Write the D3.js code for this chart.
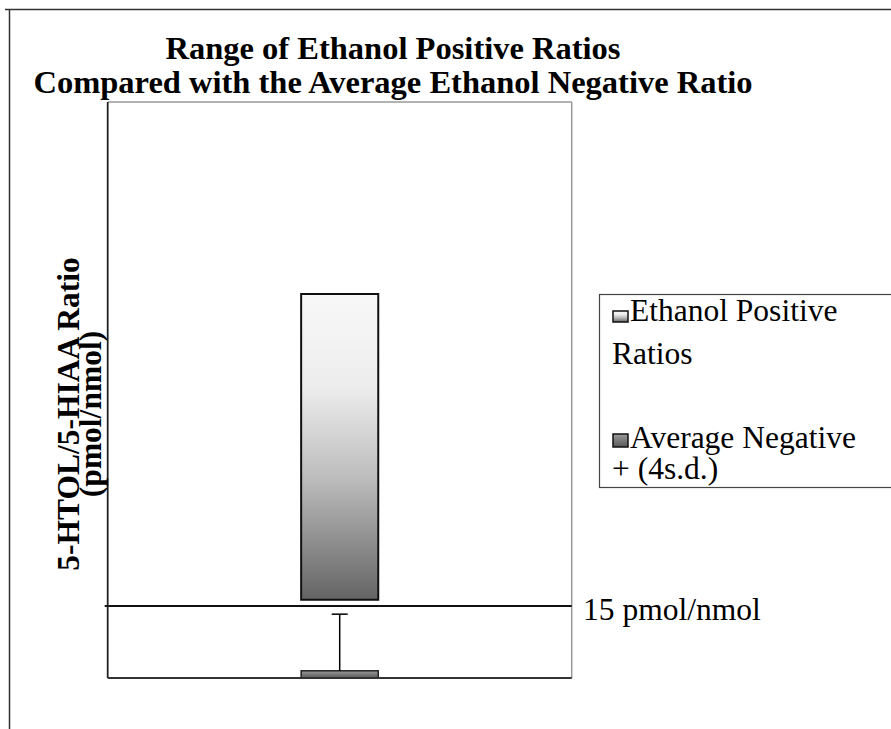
<!DOCTYPE html>
<html><head><meta charset="utf-8">
<script src="https://cdn.jsdelivr.net/npm/d3@7"></script>
<style>html,body{margin:0;padding:0;background:#fff;}svg{display:block;}</style>
</head><body>
<script>
// ---- data ----
const titleLines = ["Range of Ethanol Positive Ratios", "Compared with the Average Ethanol Negative Ratio"];
const yLabelLines = ["5-HTOL/5-HIAA Ratio", "(pmol/nmol)"];
const categories = ["Sample"];
const seriesNames = ["Ethanol Positive Ratios", "Average Negative + (4s.d.)"];
const legendLines = [["Ethanol Positive", "Ratios"], ["Average Negative", "+ (4s.d.)"]];
const positiveLow = [16.3];
const positiveHigh = [80];
const negativeAvg = [1.5];
const negativeUpper = [13.3];
const cutoffValue = 15;
const cutoffLabel = "15 pmol/nmol";
const yDomain = [0, 120];

const W = 891, H = 729;
const svg = d3.select("body").append("svg").attr("width", W).attr("height", H);
const defs = svg.append("defs");
const g1 = defs.append("linearGradient").attr("id","gPos").attr("x1",0).attr("y1",0).attr("x2",0).attr("y2",1);
[[0,"#f8f8f8"],[0.3,"#ededed"],[0.6,"#bdbdbd"],[1,"#646464"]].forEach(s=>g1.append("stop").attr("offset",s[0]).attr("stop-color",s[1]));
const g2 = defs.append("linearGradient").attr("id","gNeg").attr("x1",0).attr("y1",0).attr("x2",0).attr("y2",1);
[[0,"#9a9a9a"],[1,"#5a5a5a"]].forEach(s=>g2.append("stop").attr("offset",s[0]).attr("stop-color",s[1]));

// outer frame (top & left)
svg.append("line").attr("x1",5).attr("x2",W).attr("y1",9.5).attr("y2",9.5).attr("stroke","#333").attr("stroke-width",1.5);
svg.append("line").attr("x1",9.5).attr("x2",9.5).attr("y1",9).attr("y2",H).attr("stroke","#333").attr("stroke-width",1.5);

const font = "'Liberation Serif','Times New Roman',serif";
// title
svg.append("g").selectAll("text").data(titleLines).join("text")
  .attr("x",393).attr("y",(d,i)=>59+i*34).attr("text-anchor","middle")
  .attr("font-family",font).attr("font-weight","bold").attr("font-size",32.5).attr("fill","#000").text(d=>d);

const plot = {l:107.7, r:571.7, t:102, b:678};
const x = d3.scaleBand().domain(categories).range([plot.l, plot.r]).paddingInner(0.715).paddingOuter(0.715);
const y = d3.scaleLinear().domain(yDomain).range([plot.b, plot.t]);

// plot frame
svg.append("line").attr("x1",plot.l).attr("x2",plot.r).attr("y1",plot.t).attr("y2",plot.t).attr("stroke","#999").attr("stroke-width",1.5);
svg.append("line").attr("x1",plot.r).attr("x2",plot.r).attr("y1",plot.t).attr("y2",plot.b).attr("stroke","#999").attr("stroke-width",1.5);

// positive range bar
svg.append("g").selectAll("rect").data(categories).join("rect")
  .attr("x",d=>x(d)).attr("width",x.bandwidth())
  .attr("y",(d,i)=>y(positiveHigh[i])).attr("height",(d,i)=>y(positiveLow[i])-y(positiveHigh[i]))
  .attr("fill","url(#gPos)").attr("stroke","#111").attr("stroke-width",2);

// negative average bar
svg.append("g").selectAll("rect").data(categories).join("rect")
  .attr("x",d=>x(d)).attr("width",x.bandwidth())
  .attr("y",(d,i)=>y(negativeAvg[i])).attr("height",(d,i)=>y(0)-y(negativeAvg[i]))
  .attr("fill","url(#gNeg)").attr("stroke","#222").attr("stroke-width",1.5);

// error bar
const eb = svg.append("g").selectAll("g").data(categories).join("g");
eb.append("line").attr("x1",d=>x(d)+x.bandwidth()/2).attr("x2",d=>x(d)+x.bandwidth()/2)
  .attr("y1",(d,i)=>y(negativeAvg[i])).attr("y2",(d,i)=>y(negativeUpper[i])).attr("stroke","#000").attr("stroke-width",1.5);
eb.append("line").attr("x1",d=>x(d)+x.bandwidth()/2-8).attr("x2",d=>x(d)+x.bandwidth()/2+8)
  .attr("y1",(d,i)=>y(negativeUpper[i])).attr("y2",(d,i)=>y(negativeUpper[i])).attr("stroke","#000").attr("stroke-width",1.5);

// cutoff line
svg.append("line").attr("x1",plot.l-3).attr("x2",plot.r).attr("y1",y(cutoffValue)).attr("y2",y(cutoffValue)).attr("stroke","#111").attr("stroke-width",1.8);
svg.append("text").attr("x",583).attr("y",y(cutoffValue)+14).attr("font-family",font).attr("font-size",31.5).attr("fill","#000").text(cutoffLabel);

// left & bottom axis lines
svg.append("line").attr("x1",plot.l).attr("x2",plot.l).attr("y1",plot.t).attr("y2",plot.b).attr("stroke","#222").attr("stroke-width",1.8);
svg.append("line").attr("x1",plot.l).attr("x2",plot.r).attr("y1",plot.b).attr("y2",plot.b).attr("stroke","#333").attr("stroke-width",1.8);

// y label
const yl = svg.append("g").attr("transform","translate(0,414) rotate(-90)");
yl.selectAll("text").data(yLabelLines).join("text")
  .attr("x",0).attr("y",(d,i)=>[79,101][i]).attr("text-anchor","middle")
  .attr("font-family",font).attr("font-weight","bold").attr("font-size",31.5).attr("fill","#000").text(d=>d);

// legend
const lg = svg.append("g");
lg.append("rect").attr("x",599.5).attr("y",294.5).attr("width",320).attr("height",193).attr("fill","#fff").attr("stroke","#444").attr("stroke-width",1.2);
const items = lg.selectAll("g.it").data(seriesNames).join("g").attr("class","it");
items.append("rect").attr("x",613).attr("y",(d,i)=>[311,434][i]).attr("width",15).attr("height",(d,i)=>[11,13][i])
  .attr("fill",(d,i)=>i===0?"url(#gPos)":"url(#gNeg)").attr("stroke","#111").attr("stroke-width",1.5);
items.each(function(d,i){
  d3.select(this).selectAll("text").data(legendLines[i]).join("text")
    .attr("x",(t,j)=>j===0?630:612).attr("y",(t,j)=>[[321,364],[448,479]][i][j])
    .attr("font-family",font).attr("font-size",31.5).attr("fill","#000").text(t=>t);
});
</script>
</body></html>
